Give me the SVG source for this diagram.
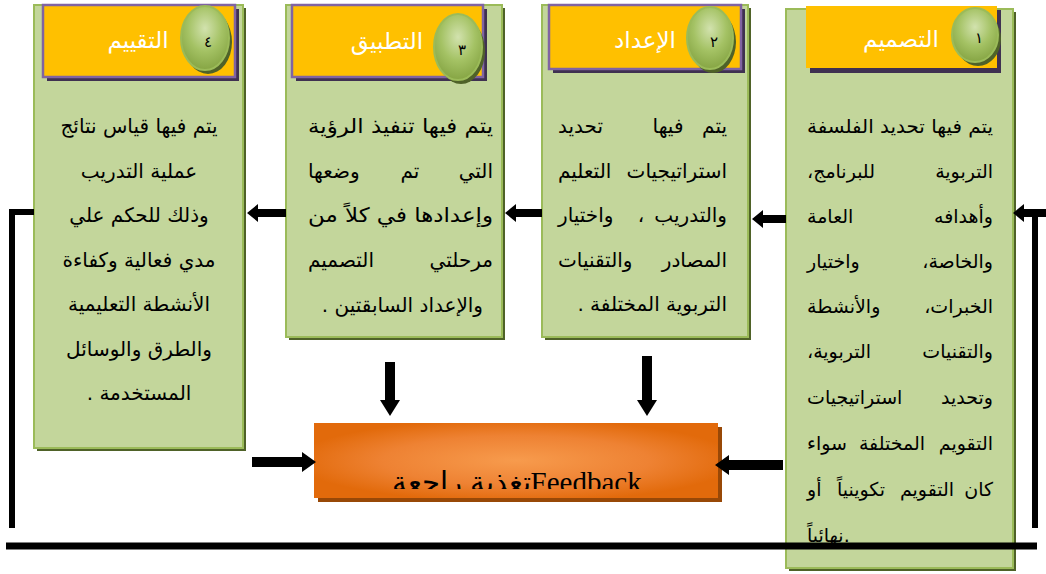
<svg xmlns="http://www.w3.org/2000/svg" width="1046" height="574" viewBox="0 0 1046 574">
<defs>
<style>
.box{fill:#C3D69B;stroke:#9BBB59;stroke-width:2}
.bsh{fill:#4F6228}
.hdr{fill:#FFC000;stroke:#8064A2;stroke-width:2.5}
.hsh{fill:#3F3151}
.cir{fill:url(#gc);stroke:#9BBB59;stroke-width:2}
.csh{fill:#4F6228}
.ht{font-family:'DejaVu Sans',sans-serif;font-size:23px;fill:#fff;direction:rtl;text-anchor:middle}
.num{font-family:'DejaVu Sans',sans-serif;font-size:15px;fill:#000;text-anchor:middle}
.t{font-family:'DejaVu Sans',sans-serif;font-size:20px;fill:#000;direction:rtl}
.s{font-size:19px}
.r{text-anchor:start}
.l{text-anchor:end}
.m{text-anchor:middle}
.ltr{direction:ltr;text-anchor:start}
.ar{fill:#000}
.ln{stroke:#000;fill:none}
</style>
<radialGradient id="gc" cx="50%" cy="35%" r="65%">
<stop offset="0" stop-color="#D2E2AE"/>
<stop offset="0.55" stop-color="#A4C264"/>
<stop offset="1" stop-color="#86A544"/>
</radialGradient>
<radialGradient id="go" cx="50%" cy="50%" r="55%">
<stop offset="0" stop-color="#F79B4D"/>
<stop offset="0.6" stop-color="#EE8233"/>
<stop offset="1" stop-color="#E26A0B"/>
</radialGradient>
<clipPath id="fbclip"><rect x="314" y="423" width="404" height="66"/></clipPath>
</defs>

<g id="node-design">
<rect class="bsh" x="789" y="12" width="227" height="559"/>
<rect class="box" x="786" y="9" width="227" height="559"/>
<rect class="hsh" x="810" y="10" width="191" height="63"/>
<rect x="806" y="6" width="191" height="62" fill="#FFC000"/>
<ellipse class="csh" cx="978" cy="39" rx="23" ry="27"/>
<ellipse class="cir" cx="975" cy="35" rx="23" ry="27"/>
<text class="num" x="979" y="43">١</text>
<text class="ht" x="901" y="47">التصميم</text>
<text class="t s r" x="993" y="133" textLength="186" lengthAdjust="spacingAndGlyphs">يتم فيها تحديد الفلسفة</text>
<text class="t s r" x="993" y="178">التربوية</text><text class="t s l" x="807" y="178">للبرنامج،</text>
<text class="t s r" x="993" y="223">وأهدافه</text><text class="t s l" x="807" y="223">العامة</text>
<text class="t s r" x="993" y="268">والخاصة،</text><text class="t s l" x="807" y="268">واختيار</text>
<text class="t s r" x="993" y="313">الخبرات،</text><text class="t s l" x="807" y="313">والأنشطة</text>
<text class="t s r" x="993" y="358">والتقنيات</text><text class="t s l" x="807" y="358">التربوية،</text>
<text class="t s r" x="993" y="404">وتحديد</text><text class="t s l" x="807" y="404">استراتيجيات</text>
<text class="t s r" x="993" y="450">التقويم</text><text class="t s m" x="892" y="450">المختلفة</text><text class="t s l" x="807" y="450">سواء</text>
<text class="t s r" x="993" y="496">كان</text><text class="t s m" x="927" y="496">التقويم</text><text class="t s m" x="861" y="496">تكوينياً</text><text class="t s l" x="807" y="496">أو</text>
<text class="t s ltr" x="807" y="542">نهائياً.</text>
</g>

<g id="node-prepare">
<rect class="bsh" x="545" y="8" width="206" height="332"/>
<rect class="box" x="542" y="5" width="206" height="332"/>
<rect class="hsh" x="553" y="9" width="192" height="64"/>
<rect class="hdr" x="549" y="5" width="192" height="64"/>
<ellipse class="csh" cx="713" cy="42" rx="23" ry="31"/>
<ellipse class="cir" cx="710" cy="38" rx="23" ry="31"/>
<text class="num" x="714" y="47">٢</text>
<text class="ht" x="645" y="48">الإعداد</text>
<text class="t r" x="727" y="133">يتم</text><text class="t m" x="668" y="133">فيها</text><text class="t l" x="558" y="133">تحديد</text>
<text class="t r" x="727" y="178">استراتيجيات</text><text class="t l" x="558" y="178">التعليم</text>
<text class="t r" x="727" y="222">والتدريب</text><text class="t m" x="641" y="222">،</text><text class="t l" x="558" y="222">واختيار</text>
<text class="t r" x="727" y="267">المصادر</text><text class="t l" x="558" y="267">والتقنيات</text>
<text class="t r" x="727" y="311">التربوية المختلفة .</text>
</g>

<g id="node-apply">
<rect class="bsh" x="289" y="8" width="216" height="332"/>
<rect class="box" x="286" y="5" width="216" height="332"/>
<rect class="hsh" x="296" y="9" width="191" height="72"/>
<rect class="hdr" x="292" y="5" width="191" height="72"/>
<ellipse class="csh" cx="461" cy="51" rx="24" ry="33"/>
<ellipse class="cir" cx="458" cy="47" rx="24" ry="33"/>
<text class="num" x="462" y="55">٣</text>
<text class="ht" x="387" y="49">التطبيق</text>
<text class="t r" x="493" y="133" textLength="185" lengthAdjust="spacingAndGlyphs">يتم فيها تنفيذ الرؤية</text>
<text class="t r" x="493" y="178">التي</text><text class="t m" x="410" y="178">تم</text><text class="t l" x="308" y="178">وضعها</text>
<text class="t r" x="493" y="222" textLength="185" lengthAdjust="spacingAndGlyphs">وإعدادها في كلاً من</text>
<text class="t r" x="493" y="267">مرحلتي</text><text class="t l" x="308" y="267">التصميم</text>
<text class="t r" x="483" y="312">والإعداد السابقتين .</text>
</g>

<g id="node-evaluate">
<rect class="bsh" x="37" y="8" width="209" height="443"/>
<rect class="box" x="34" y="5" width="209" height="443"/>
<rect class="hsh" x="47" y="9" width="192" height="72"/>
<rect class="hdr" x="43" y="5" width="192" height="72"/>
<ellipse class="csh" cx="208" cy="42" rx="24" ry="32"/>
<ellipse class="cir" cx="205" cy="38" rx="24" ry="32"/>
<text class="num" x="208" y="47">٤</text>
<text class="ht" x="138" y="48">التقييم</text>
<text class="t m" x="139" y="133">يتم فيها قياس نتائج</text>
<text class="t m" x="139" y="178">عملية التدريب</text>
<text class="t m" x="139" y="222">وذلك للحكم علي</text>
<text class="t m" x="139" y="267">مدي فعالية وكفاءة</text>
<text class="t m" x="139" y="311">الأنشطة التعليمية</text>
<text class="t m" x="139" y="356">والطرق والوسائل</text>
<text class="t m" x="139" y="400">المستخدمة .</text>
</g>

<g id="node-feedback">
<rect x="318" y="427" width="404" height="75" fill="#984807"/>
<rect x="314" y="423" width="404" height="75" fill="url(#go)"/>
<g clip-path="url(#fbclip)">
<text x="517" y="492" font-family="'Liberation Serif','DejaVu Serif',serif" font-size="29" fill="#000" direction="rtl" text-anchor="middle">Feedbackتغذية راجعة</text>
</g>
</g>

<g id="connectors">
<polygon class="ar" points="786,215 763,215 763,210 752,219 763,228 763,223 786,223"/>
<polygon class="ar" points="542,209 516,209 516,204 505,213 516,222 516,217 542,217"/>
<polygon class="ar" points="286,209 258,209 258,204 247,213 258,222 258,217 286,217"/>
<polygon class="ar" points="1046,209 1024,209 1024,204 1013,213 1024,222 1024,217 1046,217"/>
<line class="ln" x1="1035" y1="213" x2="1035" y2="528" stroke-width="6"/>
<polyline class="ln" points="34,212 12,212 12,528" stroke-width="6"/>
<line class="ln" x1="6" y1="546" x2="1037" y2="546" stroke-width="7"/>
<polygon class="ar" points="252,457 302,457 302,452 316,462 302,472 302,467 252,467"/>
<polygon class="ar" points="783,460 729,460 729,455 715,465 729,475 729,470 783,470"/>
<polygon class="ar" points="385,362 395,362 395,400 400,400 390,416 380,400 385,400"/>
<polygon class="ar" points="642,356 652,356 652,400 657,400 647,416 637,400 642,400"/>
</g>
</svg>
